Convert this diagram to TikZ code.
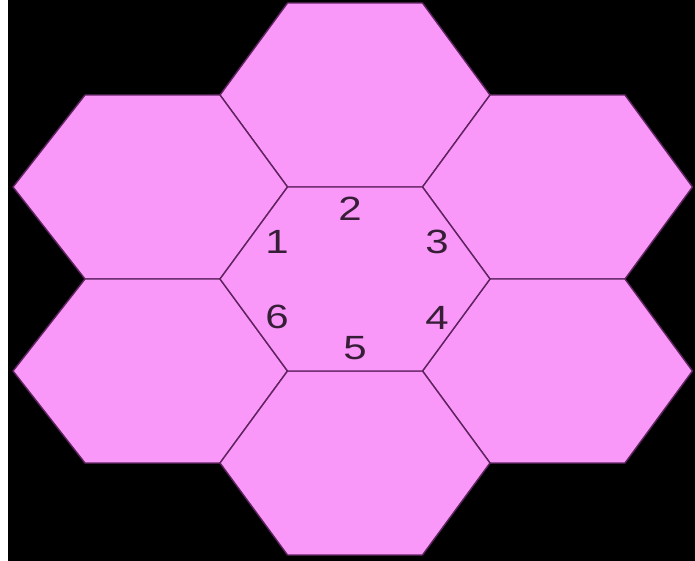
\documentclass[tikz,border=0pt]{standalone}
\usepackage{fontspec}
\setmainfont{Liberation Sans}
\definecolor{hexpink}{RGB}{250,152,250}
\definecolor{hexline}{RGB}{95,35,95}
\definecolor{lbltext}{RGB}{55,30,55}
\newcommand{\squashed}[1]{\scalebox{1}[0.8]{#1}}
\begin{document}
\begin{tikzpicture}[x=1pt,y=-1pt,
  hexa/.style={fill=hexpink,draw=hexline,line width=1.4pt,line join=miter},
  lbl/.style={font=\fontsize{42}{42}\selectfont,text=lbltext,inner sep=0pt}]
\useasboundingbox (0,0) rectangle (695,561);
\fill[white] (0,0) rectangle (695,561);
\fill[black] (8,0) rectangle (695,561);
% centre x / centre y / extra width on the left / extra width on the right
\foreach \cx/\cy/\el/\er in {355/95/0/0,152.5/187/4.5/0,557.5/187/0/0,152.5/371/4.5/0,557.5/371/0/0,355/463/0/0,355/279/0/0}
  \draw[hexa] (\cx-135-\el,\cy) -- (\cx-67.5,\cy-92) -- (\cx+67.5,\cy-92) -- (\cx+135+\er,\cy) -- (\cx+67.5,\cy+92) -- (\cx-67.5,\cy+92) -- cycle;
\node[lbl] (l1) at (277,242) {\squashed{1}};
\node[lbl] (l2) at (350,209) {\squashed{2}};
\node[lbl] (l3) at (437,242) {\squashed{3}};
\node[lbl] (l4) at (437,318) {\squashed{4}};
\node[lbl] (l5) at (355,348) {\squashed{5}};
\node[lbl] (l6) at (277,317) {\squashed{6}};
\end{tikzpicture}
\end{document}
